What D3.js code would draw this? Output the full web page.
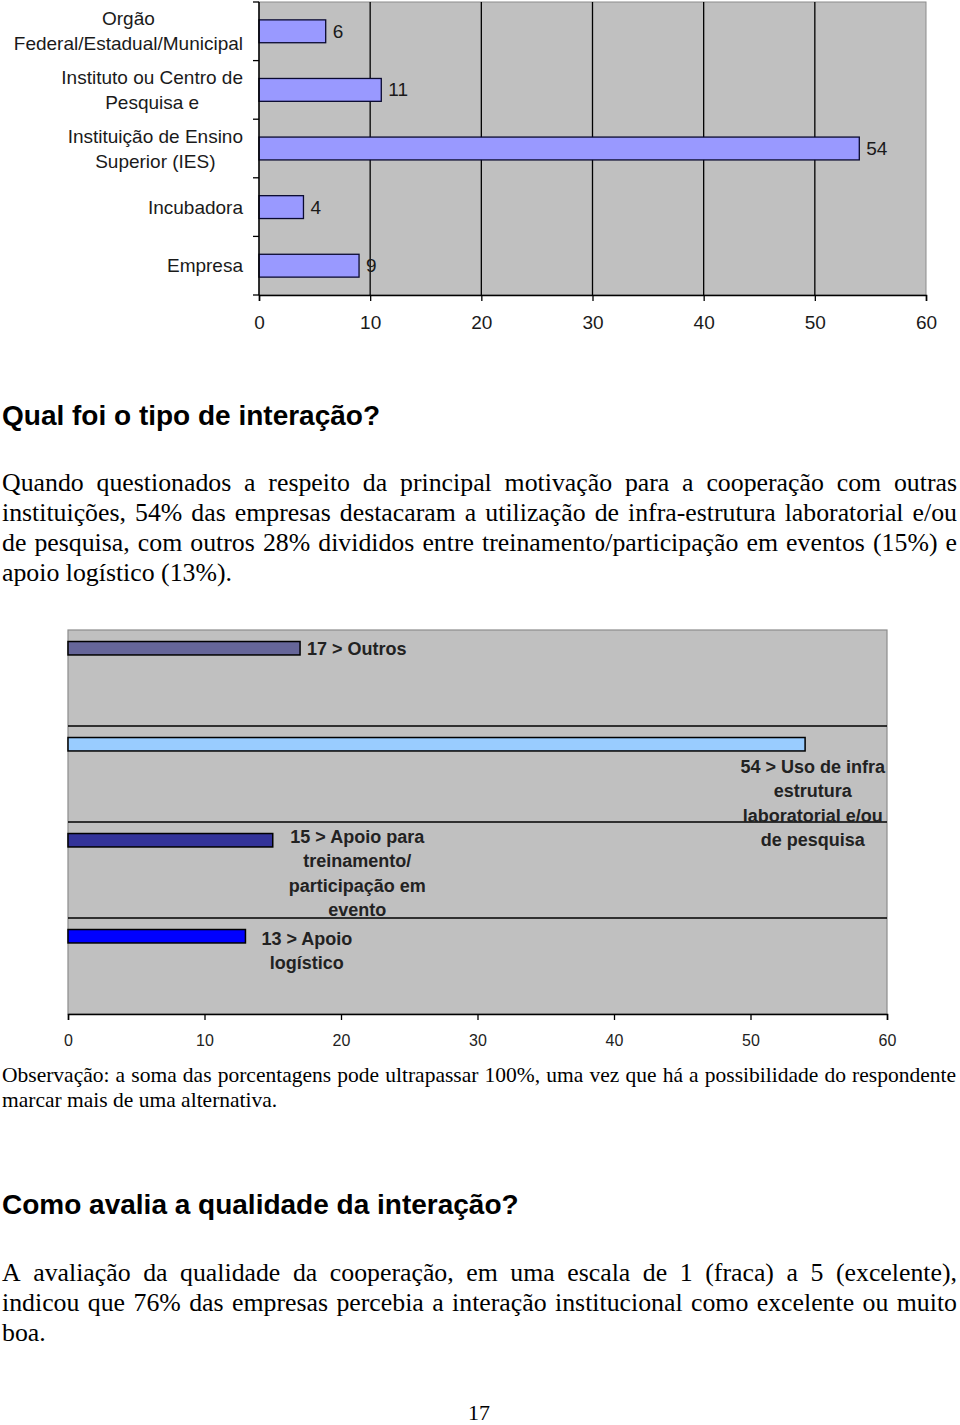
<!DOCTYPE html>
<html>
<head>
<meta charset="utf-8">
<script src="https://cdn.jsdelivr.net/npm/d3@7"></script>
<style>
html,body{margin:0;padding:0;background:#fff;}
svg{display:block;}
</style>
</head>
<body>
<svg id="page" width="960" height="1425"></svg>
<script>
// ---------- DATA ----------
const categories1 = [
  ["Orgão", "Federal/Estadual/Municipal"],
  ["Instituto ou Centro de", "Pesquisa e"],
  ["Instituição de Ensino", "Superior (IES)"],
  ["Incubadora"],
  ["Empresa"]
];
const values1 = [6, 11, 54, 4, 9];
const ticks1 = [0, 10, 20, 30, 40, 50, 60];

const categories2 = ["Outros", "Uso de infra estrutura laboratorial e/ou de pesquisa",
  "Apoio para treinamento/participação em evento", "Apoio logístico"];
const values2 = [17, 54, 15, 13];
const labels2 = [
  ["17 > Outros"],
  ["54 > Uso de infra", "estrutura", "laboratorial e/ou", "de pesquisa"],
  ["15 > Apoio para", "treinamento/", "participação em", "evento"],
  ["13 > Apoio", "logístico"]
];
const colors2 = ["#666699", "#99ccff", "#333399", "#0000ff"];
const ticks2 = [0, 10, 20, 30, 40, 50, 60];

const heading1 = "Qual foi o tipo de interação?";
const para1 = [
  "Quando questionados a respeito da principal motivação para a cooperação com outras",
  "instituições, 54% das empresas destacaram a utilização de infra-estrutura laboratorial e/ou",
  "de pesquisa, com outros 28% divididos entre treinamento/participação em eventos (15%) e",
  "apoio logístico (13%)."
];
const note = [
  "Observação: a soma das porcentagens pode ultrapassar 100%, uma vez que há a possibilidade do respondente",
  "marcar mais de uma alternativa."
];
const heading2 = "Como avalia a qualidade da interação?";
const para2 = [
  "A avaliação da qualidade da cooperação, em uma escala de 1 (fraca) a 5 (excelente),",
  "indicou que 76% das empresas percebia a interação institucional como excelente ou muito",
  "boa."
];
const pageNumber = "17";

// ---------- DRAW ----------
const svg = d3.select("#page");
const SANS = "'Liberation Sans', Arial, sans-serif";
const SERIF = "'Liberation Serif', 'Times New Roman', serif";

// ===== Chart 1 =====
(function(){
  const L = 259, R = 926, T = 2, B = 295;
  const x = d3.scaleLinear().domain([0, 60]).range([L, R]);
  const y = d3.scaleBand().domain(d3.range(values1.length)).range([T, B]).padding(0);
  const g = svg.append("g");
  g.append("rect").attr("x", L).attr("y", T).attr("width", R - L).attr("height", B - T)
    .attr("fill", "#c0c0c0").attr("stroke", "#8c8c8c").attr("stroke-width", 1);
  g.selectAll(".vg").data(ticks1.filter(t => t > 0 && t < 60)).join("line")
    .attr("x1", d => x(d)).attr("x2", d => x(d)).attr("y1", T).attr("y2", B)
    .attr("stroke", "#000").attr("stroke-width", 1.3);
  const bw = y.bandwidth();
  g.selectAll(".bar").data(values1).join("rect")
    .attr("x", x(0)).attr("y", (d, i) => y(i) + bw * 0.305)
    .attr("width", d => x(d) - x(0)).attr("height", bw * 0.39)
    .attr("fill", "#9999ff").attr("stroke", "#0a0a30").attr("stroke-width", 1.3);
  g.selectAll(".val").data(values1).join("text")
    .attr("x", d => x(d) + 7).attr("y", (d, i) => y(i) + bw / 2 + 6.5)
    .attr("font-family", SANS).attr("font-size", 19).attr("fill", "#1a1a1a")
    .text(d => d);
  const xa = g.append("g").attr("transform", `translate(0,${B})`)
    .call(d3.axisBottom(x).tickValues(ticks1).tickSize(6).tickPadding(15).tickFormat(d3.format("d")));
  xa.select(".domain").attr("stroke", "#000").attr("stroke-width", 1.5);
  xa.selectAll(".tick line").attr("stroke", "#000").attr("stroke-width", 1.3);
  xa.selectAll(".tick text").attr("font-family", SANS).attr("font-size", 19).attr("fill", "#1a1a1a");
  g.append("line").attr("x1", L).attr("x2", L).attr("y1", T).attr("y2", B)
    .attr("stroke", "#000").attr("stroke-width", 1.5);
  const bounds = d3.range(values1.length + 1).map(i => i < values1.length ? y(i) : B);
  g.selectAll(".lt").data(bounds).join("line")
    .attr("x1", L - 6).attr("x2", L).attr("y1", d => d).attr("y2", d => d)
    .attr("stroke", "#000").attr("stroke-width", 1.3);
  categories1.forEach((lines, i) => {
    const c = y(i) + bw / 2;
    const t = g.append("text").attr("font-family", SANS).attr("font-size", 19).attr("fill", "#1a1a1a")
      .attr("text-anchor", "middle");
    const ts = lines.map((ln, k) => t.append("tspan").text(ln)
      .attr("y", c + (k - (lines.length - 1) / 2) * 25 + 6.5));
    const maxW = d3.max(ts, s => s.node().getComputedTextLength());
    ts.forEach(s => s.attr("x", 243 - maxW / 2));
  });
})();

// ===== Text helpers =====
function justifiedLine(str, x0, x1, yb, font, size, weight, justify) {
  const words = str.split(" ");
  const t = svg.append("text").attr("font-family", font).attr("font-size", size)
    .attr("font-weight", weight || "normal").attr("fill", "#000").attr("y", yb);
  const spans = words.map(w => t.append("tspan").attr("y", yb).text(w));
  const widths = spans.map(s => s.node().getComputedTextLength());
  const total = d3.sum(widths);
  let gap;
  if (justify && words.length > 1) gap = (x1 - x0 - total) / (words.length - 1);
  else {
    const sp = svg.append("text").attr("font-family", font).attr("font-size", size).text("a a");
    const sp2 = svg.append("text").attr("font-family", font).attr("font-size", size).text("aa");
    gap = sp.node().getComputedTextLength() - sp2.node().getComputedTextLength();
    sp.remove(); sp2.remove();
  }
  let cx = x0;
  spans.forEach((s, i) => { s.attr("x", cx); cx += widths[i] + gap; });
}

svg.append("text").attr("x", 2).attr("y", 425).attr("font-family", SANS).attr("font-size", 28)
  .attr("font-weight", "bold").attr("fill", "#000").text(heading1);
para1.forEach((ln, i) => justifiedLine(ln, 2, 957, 491 + i * 30, SERIF, 25.8, "normal", i < para1.length - 1));

// ===== Chart 2 =====
(function(){
  const L = 68, R = 887, T = 630, B = 1014;
  const x = d3.scaleLinear().domain([0, 60]).range([L, R]);
  const y = d3.scaleBand().domain(d3.range(values2.length)).range([T, B]).padding(0);
  const bw = y.bandwidth();
  const g = svg.append("g");
  g.append("rect").attr("x", L).attr("y", T).attr("width", R - L).attr("height", B - T)
    .attr("fill", "#c0c0c0").attr("stroke", "#8c8c8c").attr("stroke-width", 1.2);
  g.selectAll(".hg").data(d3.range(1, values2.length)).join("line")
    .attr("x1", L).attr("x2", R).attr("y1", d => y(d)).attr("y2", d => y(d))
    .attr("stroke", "#000").attr("stroke-width", 1.5);
  g.selectAll(".bar").data(values2).join("rect")
    .attr("x", x(0)).attr("y", (d, i) => y(i) + bw * 0.12)
    .attr("width", d => x(d) - x(0)).attr("height", bw * 0.14)
    .attr("fill", (d, i) => colors2[i]).attr("stroke", "#000").attr("stroke-width", 1.5);
  const xa = g.append("g").attr("transform", `translate(0,${B})`)
    .call(d3.axisBottom(x).tickValues(ticks2).tickSize(6).tickPadding(15).tickFormat(d3.format("d")));
  xa.select(".domain").attr("stroke", "#000").attr("stroke-width", 1.5);
  xa.selectAll(".tick line").attr("stroke", "#000").attr("stroke-width", 1.3);
  xa.selectAll(".tick text").attr("font-family", SANS).attr("font-size", 16).attr("fill", "#222");
  const LH = 24.5, FS = 18;
  const firstOffset = [18, 40, 14, 20]; // first label line centre, relative to band start
  labels2.forEach((lines, i) => {
    const v = values2[i];
    const t = g.append("text").attr("font-family", SANS).attr("font-size", FS)
      .attr("font-weight", "bold").attr("fill", "#222").attr("text-anchor", "middle");
    const first = y(i) + firstOffset[i];
    const ts = lines.map((ln, k) => t.append("tspan").text(ln).attr("y", first + k * LH + 6.5));
    const maxW = d3.max(ts, s => s.node().getComputedTextLength());
    let cx;
    if (i === 0) cx = x(v) + 7 + maxW / 2;
    else if (i === 1) cx = R - 2 - maxW / 2;
    else cx = x(v) + 16 + maxW / 2;
    ts.forEach(s => s.attr("x", cx));
  });
})();

note.forEach((ln, i) => justifiedLine(ln, 2, 956, 1082 + i * 25, SERIF, 21.5, "normal", i < note.length - 1));

svg.append("text").attr("x", 2).attr("y", 1214).attr("font-family", SANS).attr("font-size", 28)
  .attr("font-weight", "bold").attr("fill", "#000").text(heading2);
para2.forEach((ln, i) => justifiedLine(ln, 2, 957, 1281 + i * 30, SERIF, 25.8, "normal", i < para2.length - 1));

svg.append("text").attr("x", 479).attr("y", 1420).attr("text-anchor", "middle")
  .attr("font-family", SERIF).attr("font-size", 22).attr("fill", "#000").text(pageNumber);
</script>
</body>
</html>
